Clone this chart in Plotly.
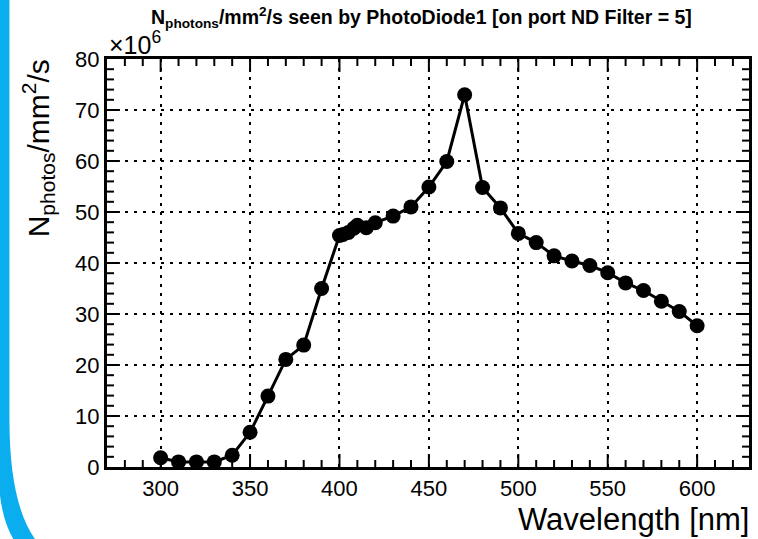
import plotly.graph_objects as go

wavelength = [300, 310, 320, 330, 340, 350, 360, 370, 380, 390,
              400, 402, 405, 408, 410, 415, 420, 430, 440, 450,
              460, 470, 480, 490, 500, 510, 520, 530, 540, 550,
              560, 570, 580, 590, 600]
nphotons = [1.8, 1.0, 1.0, 1.0, 2.3, 6.8, 13.9, 21.1, 23.9, 35.0,
            45.4, 45.6, 46.0, 46.8, 47.4, 46.9, 47.9, 49.2, 51.0, 54.9,
            59.9, 73.0, 54.8, 50.8, 45.8, 44.0, 41.4, 40.4, 39.5, 38.1,
            36.1, 34.6, 32.5, 30.5, 27.7]
x_range = [270, 629]
y_range = [0, 80]
x_major, x_minor = 50, 10
y_major, y_minor = 10, 2

W, H = 758, 539
L, R, T, B = 107, 6, 59, 72
PW, PH = W - L - R, H - T - B
MAJ_LEN, MIN_LEN = 13, 7


def px(x):
    return (x - L) / PW


def py(y):
    return (H - B - y) / PH


FONT = "Liberation Sans"

fig = go.Figure()
fig.add_trace(go.Scatter(
    x=wavelength, y=nphotons, mode="lines+markers",
    line=dict(color="black", width=3),
    marker=dict(color="black", size=15, symbol="circle"),
    showlegend=False,
))

common = dict(
    ticks="", showline=True, linecolor="black", linewidth=3, mirror=True,
    showgrid=True, gridcolor="black", gridwidth=2, griddash="3px,6px",
    zeroline=False, tickfont=dict(family=FONT, size=22, color="black"),
    tickmode="linear", tick0=0,
)
fig.update_xaxes(range=x_range, dtick=x_major, **common)
fig.update_yaxes(range=y_range, dtick=y_major, **common)

# inside ticks on all four sides (derived from the axis settings)
tick_style = dict(color="black", width=2)
v = (x_range[0] // x_minor + 1) * x_minor
while v <= x_range[1]:
    ln = MAJ_LEN if v % x_major == 0 else MIN_LEN
    for y0, y1 in ((0, ln / PH), (1, 1 - ln / PH)):
        fig.add_shape(type="line", xref="x", yref="y domain", x0=v, x1=v,
                      y0=y0, y1=y1, line=tick_style, layer="above")
    v += x_minor
v = y_range[0] + y_minor
while v < y_range[1]:
    ln = MAJ_LEN if v % y_major == 0 else MIN_LEN
    for x0, x1 in ((0, ln / PW), (1, 1 - ln / PW)):
        fig.add_shape(type="line", xref="x domain", yref="y", x0=x0, x1=x1,
                      y0=v, y1=v, line=tick_style, layer="above")
    v += y_minor

# blue slide border on the left
path = (
    f"M {px(-2)},{py(-2)} L {px(9)},{py(-2)} L {px(9)},{py(420)} "
    f"Q {px(9)},{py(505)} {px(36)},{py(541)} L {px(14)},{py(541)} "
    f"Q {px(-2)},{py(515)} {px(-2)},{py(470)} Z"
)
fig.add_shape(type="path", path=path, xref="paper", yref="paper",
              fillcolor="#0aaeee", line=dict(width=0), layer="above")

fig.add_annotation(
    text="<b>N<sub>photons</sub>/mm<sup>2</sup>/s seen by PhotoDiode1 [on port ND Filter = 5]</b>",
    x=px(423), y=py(18), xref="paper", yref="paper", xanchor="center", yanchor="middle",
    showarrow=False, font=dict(family=FONT, size=19.5, color="black"),
)
fig.add_annotation(
    text="×10<sup>6</sup>",
    x=px(107), y=py(43), xref="paper", yref="paper", xanchor="left", yanchor="middle",
    showarrow=False, font=dict(family=FONT, size=25, color="black"),
)
fig.add_annotation(
    text="N<sub>photos</sub>/mm<sup>2</sup>/s",
    x=px(38), y=py(57), xref="paper", yref="paper", xanchor="center", yanchor="top",
    textangle=-90, showarrow=False, font=dict(family=FONT, size=30, color="black"),
)
fig.add_annotation(
    text="Wavelength [nm]",
    x=px(754), y=py(519), xref="paper", yref="paper", xanchor="right", yanchor="middle",
    showarrow=False, font=dict(family=FONT, size=31, color="black"),
)

fig.update_layout(
    width=W, height=H,
    margin=dict(l=L, r=R, t=T, b=B, pad=0),
    paper_bgcolor="white", plot_bgcolor="white",
    font=dict(family=FONT, color="black"),
)

fig.write_html("out.html")
